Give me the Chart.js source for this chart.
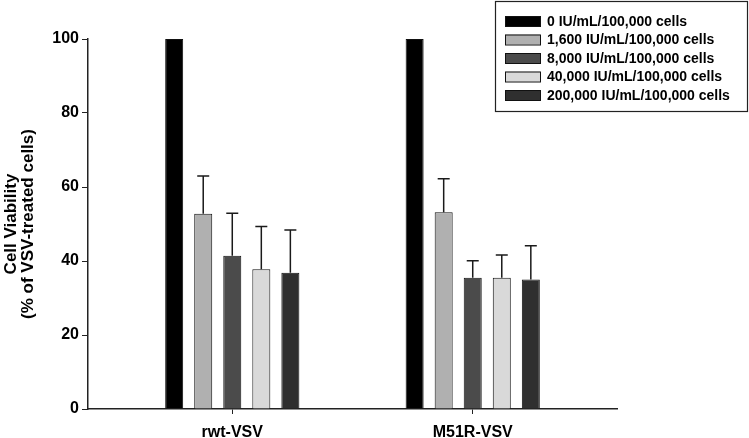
<!DOCTYPE html>
<html>
<head>
<meta charset="utf-8">
<script src="https://cdn.jsdelivr.net/npm/chart.js@4.4.1/dist/chart.umd.min.js"></script>
<style>
    html, body { margin: 0; padding: 0; background: #fff; }
    #wrap { width: 749px; height: 438px; }
</style>
</head>
<body>
<div id="wrap"><canvas id="viabilityChart"></canvas></div>
<script>
// Data
const groups = ['rwt-VSV', 'M51R-VSV'];
const doseLabels = [
    '0 IU/mL/100,000 cells',
    '1,600 IU/mL/100,000 cells',
    '8,000 IU/mL/100,000 cells',
    '40,000 IU/mL/100,000 cells',
    '200,000 IU/mL/100,000 cells'
];
const dose0 = [100, 100];
const dose1600 = [52.8, 53.2];
const dose8000 = [41.4, 35.5];
const dose40000 = [37.8, 35.5];
const dose200000 = [36.8, 35.0];

// upper error bars (SD)
const err0 = [0, 0];
const err1600 = [10.2, 9.0];
const err8000 = [11.5, 4.6];
const err40000 = [11.5, 6.1];
const err200000 = [11.6, 9.1];

const yTicks = [0, 20, 40, 60, 80, 100];

const barColors = ['#000000', '#b0b0b0', '#4b4b4b', '#d9d9d9', '#2f2f2f'];
const FONT = '"Liberation Sans", Arial, sans-serif';

function toPoints(values) {
    return values.map((v, i) => ({ x: i, y: v }));
}

const seriesValues = [dose0, dose1600, dose8000, dose40000, dose200000];
const seriesErrors = [err0, err1600, err8000, err40000, err200000];

// Upper error bars drawn from scale positions
const errorBarPlugin = {
    id: 'errorBars',
    afterDatasetsDraw(chart) {
        const ctx = chart.ctx;
        const yScale = chart.scales.y;
        ctx.save();
        ctx.strokeStyle = '#1a1a1a';
        ctx.lineWidth = 1.5;
        chart.data.datasets.forEach((ds, di) => {
            const meta = chart.getDatasetMeta(di);
            meta.data.forEach((bar, i) => {
                const err = ds.errors[i];
                if (!err) return;
                const top = yScale.getPixelForValue(ds.data[i].y + err);
                ctx.beginPath();
                ctx.moveTo(bar.x, bar.y);
                ctx.lineTo(bar.x, top);
                ctx.moveTo(bar.x - 6, top);
                ctx.lineTo(bar.x + 6, top);
                ctx.stroke();
            });
        });
        ctx.restore();
    }
};

// Boxed legend in the upper right corner
const boxLegendPlugin = {
    id: 'boxLegend',
    afterDraw(chart) {
        const ctx = chart.ctx;
        const x0 = 495, y0 = 1, w = 252, h = 110;
        ctx.save();
        ctx.fillStyle = '#fff';
        ctx.fillRect(x0, y0, w, h);
        ctx.strokeStyle = '#222';
        ctx.lineWidth = 1.2;
        ctx.strokeRect(x0 + 0.5, y0 + 0.5, w, h);
        ctx.font = 'bold 14px ' + FONT;
        ctx.textBaseline = 'middle';
        chart.data.datasets.forEach((ds, i) => {
            const cy = 21 + i * 18.5;
            ctx.fillStyle = ds.backgroundColor;
            ctx.fillRect(505, cy - 5, 35, 10);
            ctx.strokeStyle = '#111';
            ctx.lineWidth = 1;
            ctx.strokeRect(505.5, cy - 4.5, 35, 10);
            ctx.fillStyle = '#000';
            ctx.fillText(ds.label, 547, cy + 1);
        });
        ctx.restore();
    }
};

function initViabilityChart() {
    const ctx = document.getElementById('viabilityChart').getContext('2d');
    return new Chart(ctx, {
        type: 'bar',
        data: {
            datasets: seriesValues.map((vals, i) => ({
                label: doseLabels[i],
                data: toPoints(vals),
                errors: seriesErrors[i],
                backgroundColor: barColors[i],
                borderColor: '#111',
                borderWidth: 1,
                categoryPercentage: 0.604,
                barPercentage: 0.62
            }))
        },
        options: {
            responsive: true,
            maintainAspectRatio: false,
            animation: false,
            layout: { padding: { top: 39, right: 132, left: 0, bottom: 0 } },
            scales: {
                x: {
                    type: 'linear',
                    offset: false,
                    min: -0.6,
                    max: 1.6,
                    afterBuildTicks(scale) {
                        scale.ticks = groups.map((g, i) => ({ value: i }));
                    },
                    afterFit(scale) { scale.height = 29; },
                    ticks: {
                        callback: (v) => groups[v],
                        color: '#000',
                        font: { family: FONT, size: 16, weight: 'bold' },
                        padding: 9,
                        maxRotation: 0,
                        autoSkip: false
                    },
                    grid: {
                        offset: false,
                        drawOnChartArea: false,
                        drawTicks: true,
                        tickLength: 5,
                        color: '#222'
                    },
                    border: { display: true, color: '#222', width: 1.5 }
                },
                y: {
                    min: 0,
                    max: 100,
                    afterBuildTicks(scale) {
                        scale.ticks = yTicks.map(v => ({ value: v }));
                    },
                    afterFit(scale) { scale.width = 88; },
                    ticks: {
                        color: '#000',
                        font: { family: FONT, size: 16, weight: 'bold' },
                        padding: 3
                    },
                    grid: {
                        drawOnChartArea: false,
                        drawTicks: true,
                        tickLength: 6,
                        color: '#222'
                    },
                    border: { display: true, color: '#222', width: 1.5 },
                    title: {
                        display: true,
                        text: ['Cell Viability', '(% of VSV-treated cells)'],
                        color: '#000',
                        font: { family: FONT, size: 17, weight: 'bold', lineHeight: 1.0 },
                        padding: { top: 3, bottom: 0 }
                    }
                }
            },
            plugins: {
                legend: { display: false },
                tooltip: { enabled: false },
                title: { display: false }
            }
        },
        plugins: [errorBarPlugin, boxLegendPlugin]
    });
}

initViabilityChart();
</script>
</body>
</html>
